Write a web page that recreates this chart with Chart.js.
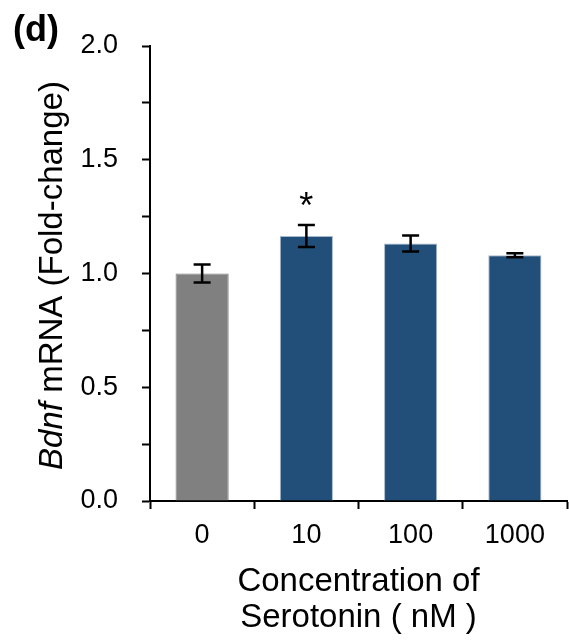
<!DOCTYPE html>
<html>
<head>
<meta charset="utf-8">
<script src="https://cdn.jsdelivr.net/npm/chart.js@4"></script>
<style>
  html, body { margin: 0; padding: 0; background: #fff; }
  #wrap { width: 569px; height: 643px; position: relative; }
</style>
</head>
<body>
<div id="wrap"><canvas id="bdnfChart"></canvas></div>
<script>
// data
var concentrations = ['0', '10', '100', '1000'];
var foldChange = [1.00, 1.165, 1.132, 1.080];
var foldError = [0.040, 0.048, 0.035, 0.009];
var significance = ['', '*', '', ''];
var yTicks = [0, 0.5, 1.0, 1.5, 2.0];

var FONT = '"Liberation Sans", Arial, sans-serif';
var barColors = ['#808080', '#224F79', '#224F79', '#224F79'];
var barEdges = ['#808080', '#A7B9CC', '#A7B9CC', '#A7B9CC'];

/**
 * Draws the error bars, the significance star, the panel letter and the y title.
 */
var extrasPlugin = {
    id: 'extras',
    afterDatasetsDraw: function(chart) {
        var ctx = chart.ctx;
        var x = chart.scales.x;
        var y = chart.scales.y;
        ctx.save();
        ctx.strokeStyle = '#000';
        ctx.lineWidth = 2.5;
        for (var i = 0; i < foldChange.length; i++) {
            var cx = x.getPixelForValue(i);
            var top = y.getPixelForValue(foldChange[i] + foldError[i]);
            var bot = y.getPixelForValue(foldChange[i] - foldError[i]);
            ctx.beginPath();
            ctx.moveTo(cx, top);
            ctx.lineTo(cx, bot);
            ctx.moveTo(cx - 8.5, top);
            ctx.lineTo(cx + 8.5, top);
            ctx.moveTo(cx - 8.5, bot);
            ctx.lineTo(cx + 8.5, bot);
            ctx.stroke();
            if (significance[i]) {
                ctx.fillStyle = '#000';
                ctx.font = '36px ' + FONT;
                ctx.textAlign = 'center';
                ctx.textBaseline = 'alphabetic';
                ctx.fillText(significance[i], cx, top - 7);
            }
        }
        ctx.restore();
    },
    afterDraw: function(chart) {
        var ctx = chart.ctx;
        ctx.save();
        ctx.fillStyle = '#000';
        ctx.font = 'bold 36px ' + FONT;
        ctx.textAlign = 'left';
        ctx.textBaseline = 'alphabetic';
        ctx.fillText('(d)', 13, 41);

        // rotated y title, "Bdnf" in italics
        var y = chart.scales.y;
        var midY = (y.top + y.bottom) / 2 + 2;
        var part1 = 'Bdnf';
        var part2 = ' mRNA (Fold-change)';
        ctx.font = 'italic 33px ' + FONT;
        var w1 = ctx.measureText(part1).width;
        ctx.font = '33px ' + FONT;
        var w2 = ctx.measureText(part2).width;
        ctx.translate(62, midY);
        ctx.rotate(-Math.PI / 2);
        var start = -(w1 + w2) / 2;
        ctx.font = 'italic 33px ' + FONT;
        ctx.fillText(part1, start, 0);
        ctx.font = '33px ' + FONT;
        ctx.fillText(part2, start + w1, 0);
        ctx.restore();
    }
};

var bdnfChart = new Chart(document.getElementById('bdnfChart').getContext('2d'), {
    type: 'bar',
    data: {
        labels: concentrations,
        datasets: [{
            label: 'Bdnf mRNA',
            data: foldChange,
            backgroundColor: barColors,
            borderColor: barEdges,
            borderWidth: 1,
            categoryPercentage: 1,
            barPercentage: 0.51
        }]
    },
    options: {
        responsive: true,
        maintainAspectRatio: false,
        animation: false,
        layout: { padding: { top: 46, right: 2, left: 0, bottom: 0 } },
        plugins: {
            legend: { display: false },
            tooltip: { enabled: false }
        },
        scales: {
            x: {
                grid: {
                    offset: true,
                    drawOnChartArea: false,
                    tickLength: 8,
                    tickWidth: 2,
                    tickColor: '#000'
                },
                border: { color: '#000', width: 2 },
                ticks: {
                    color: '#000',
                    padding: 10,
                    maxRotation: 0,
                    font: { family: FONT, size: 27 }
                },
                title: {
                    display: true,
                    text: ['Concentration of', 'Serotonin ( nM )'],
                    color: '#000',
                    padding: { top: 0, bottom: 7 },
                    font: { family: FONT, size: 33, lineHeight: 1.09 }
                },
                afterFit: function(scale) { scale.height = 142; }
            },
            y: {
                min: 0,
                max: 2,
                grid: {
                    drawOnChartArea: false,
                    tickLength: 8,
                    tickWidth: 2,
                    tickColor: '#000'
                },
                border: { color: '#000', width: 2 },
                ticks: {
                    stepSize: 0.25,
                    color: '#000',
                    padding: 24,
                    font: { family: FONT, size: 27 },
                    callback: function(value) {
                        return yTicks.indexOf(value) >= 0 ? value.toFixed(1) : '';
                    }
                },
                afterFit: function(scale) { scale.width = 150; }
            }
        }
    },
    plugins: [extrasPlugin]
});
</script>
</body>
</html>
